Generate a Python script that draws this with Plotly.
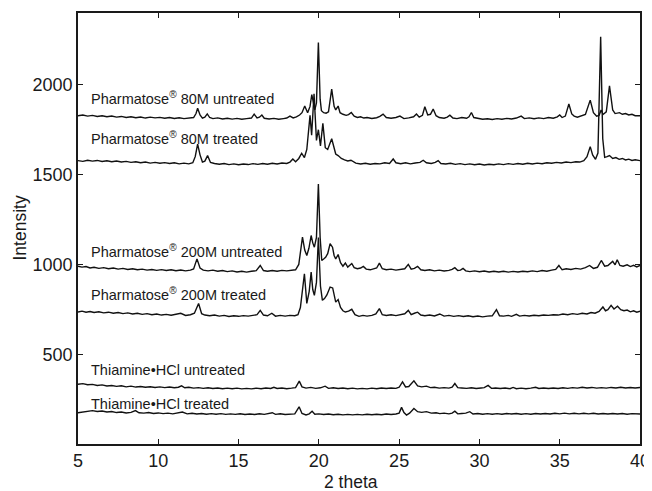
import plotly.graph_objects as go

# ---- data: (2theta, intensity) ----
p80_untreated = [
    (5.0,1828),(5.3,1832),(5.6,1826),(5.9,1830),(6.2,1824),(6.5,1828),(6.8,1822),(7.1,1826),(7.4,1820),(7.7,1824),
    (8.0,1818),(8.3,1822),(8.6,1817),(8.9,1821),(9.2,1815),(9.5,1820),(9.8,1816),(10.1,1819),(10.4,1814),(10.7,1818),
    (11.0,1813),(11.3,1817),(11.6,1812),(11.9,1816),(12.2,1818),(12.35,1840),(12.45,1870),(12.6,1832),(12.75,1815),
    (12.9,1820),(13.05,1838),(13.2,1818),(13.4,1812),(13.7,1816),(14.0,1810),(14.3,1814),(14.6,1809),(14.9,1813),
    (15.2,1808),(15.5,1812),(15.8,1815),(15.97,1837),(16.15,1816),(16.3,1820),(16.45,1832),(16.6,1814),(16.9,1810),
    (17.2,1813),(17.5,1808),(17.8,1812),(18.0,1815),(18.2,1826),(18.4,1816),(18.6,1822),(18.8,1832),(18.95,1845),
    (19.12,1882),(19.3,1845),(19.45,1880),(19.56,1945),(19.68,1880),(19.75,1860),(19.85,1900),(19.97,2235),
    (20.08,1920),(20.16,1856),(20.3,1845),(20.45,1842),(20.6,1850),(20.8,1976),(20.95,1880),(21.05,1860),
    (21.2,1882),(21.32,1845),(21.5,1836),(21.7,1830),(21.85,1834),(22.02,1846),(22.2,1825),(22.4,1818),(22.6,1822),
    (22.8,1815),(23.0,1818),(23.3,1813),(23.6,1817),(23.8,1824),(24.0,1837),(24.2,1818),(24.5,1814),(24.8,1818),
    (25.05,1826),(25.3,1812),(25.6,1816),(25.9,1822),(26.08,1838),(26.25,1820),(26.45,1830),(26.6,1878),(26.78,1832),
    (26.95,1836),(27.12,1865),(27.3,1828),(27.5,1818),(27.8,1814),(28.0,1820),(28.16,1831),(28.35,1815),(28.6,1812),
    (28.9,1818),(29.2,1814),(29.35,1822),(29.5,1846),(29.65,1818),(29.9,1812),(30.2,1808),(30.5,1811),(30.8,1807),
    (31.1,1812),(31.4,1808),(31.7,1813),(32.0,1810),(32.3,1815),(32.6,1826),(32.8,1812),(33.1,1816),(33.4,1811),
    (33.7,1816),(34.0,1812),(34.3,1818),(34.6,1814),(34.85,1822),(35.0,1832),(35.15,1818),(35.35,1826),(35.57,1893),
    (35.75,1838),(35.9,1826),(36.1,1820),(36.4,1828),(36.6,1835),(36.9,1915),(37.1,1845),(37.3,1825),(37.45,1830),
    (37.58,1860),(37.7,1835),(37.9,1850),(38.1,1994),(38.3,1860),(38.45,1840),(38.72,1845),(38.9,1836),(39.1,1840),
    (39.3,1832),(39.5,1836),(39.7,1828),(40.0,1828),
]

p80_treated = [
    (5.0,1578),(5.3,1574),(5.6,1580),(5.9,1575),(6.2,1579),(6.5,1573),(6.8,1577),(7.1,1572),(7.4,1576),(7.7,1570),
    (8.0,1574),(8.3,1568),(8.6,1572),(8.9,1566),(9.2,1570),(9.5,1564),(9.8,1568),(10.1,1563),(10.4,1567),(10.7,1562),
    (11.0,1566),(11.3,1560),(11.6,1564),(11.9,1560),(12.15,1566),(12.3,1600),(12.45,1670),(12.6,1610),(12.75,1570),
    (12.9,1575),(13.07,1606),(13.25,1568),(13.5,1562),(13.8,1558),(14.1,1562),(14.4,1556),(14.7,1560),(15.0,1555),
    (15.3,1559),(15.6,1556),(15.9,1561),(16.2,1557),(16.5,1562),(16.8,1558),(17.1,1563),(17.4,1559),(17.7,1565),
    (18.0,1562),(18.2,1570),(18.38,1587),(18.55,1572),(18.75,1590),(18.93,1619),(19.1,1595),(19.25,1640),
    (19.45,1830),(19.55,1720),(19.7,1950),(19.85,1690),(19.97,1750),(20.1,1660),(20.25,1785),(20.4,1650),
    (20.55,1640),(20.8,1700),(20.98,1630),(21.05,1615),(21.2,1606),(21.4,1590),(21.6,1582),(21.8,1576),(22.0,1580),
    (22.3,1564),(22.6,1559),(22.9,1563),(23.2,1558),(23.5,1562),(23.8,1560),(24.1,1566),(24.4,1562),(24.63,1587),
    (24.8,1566),(25.1,1561),(25.4,1566),(25.7,1560),(26.0,1565),(26.3,1568),(26.5,1580),(26.7,1566),(27.0,1562),
    (27.25,1568),(27.43,1578),(27.6,1562),(27.9,1559),(28.2,1563),(28.5,1557),(28.8,1561),(29.1,1556),(29.4,1560),
    (29.7,1555),(30.0,1559),(30.3,1554),(30.6,1558),(30.9,1555),(31.2,1560),(31.5,1556),(31.8,1561),(32.1,1557),
    (32.4,1562),(32.7,1558),(33.0,1563),(33.3,1559),(33.6,1564),(33.9,1561),(34.2,1566),(34.5,1563),(34.8,1568),
    (35.1,1565),(35.4,1570),(35.7,1567),(36.0,1572),(36.25,1570),(36.5,1578),(36.7,1600),(36.9,1656),(37.05,1610),
    (37.23,1585),(37.38,1620),(37.55,2267),(37.68,1700),(37.8,1596),(37.95,1600),(38.1,1606),(38.3,1590),
    (38.5,1595),(38.7,1585),(38.9,1590),(39.1,1582),(39.3,1586),(39.5,1579),(39.7,1583),(40.0,1578),
]

p200_untreated = [
    (5.0,990),(5.25,985),(5.5,988),(5.75,980),(6.0,984),(6.3,978),(6.6,982),(6.9,976),(7.2,980),(7.5,974),
    (7.8,978),(8.1,972),(8.4,976),(8.7,970),(9.0,974),(9.3,968),(9.6,972),(9.9,967),(10.2,971),(10.5,966),
    (10.8,970),(11.1,965),(11.4,969),(11.7,964),(12.0,968),(12.2,975),(12.41,1031),(12.6,980),(12.8,968),(13.1,964),
    (13.4,968),(13.7,962),(14.0,966),(14.3,960),(14.6,964),(14.9,958),(15.2,962),(15.5,957),(15.8,962),(16.1,965),
    (16.35,994),(16.55,966),(16.8,962),(17.1,966),(17.4,962),(17.7,967),(18.0,964),(18.3,968),(18.55,970),
    (18.75,1000),(18.98,1152),(19.12,1080),(19.25,1050),(19.38,1090),(19.52,1161),(19.62,1120),(19.72,1096),
    (19.85,1150),(19.97,1448),(20.08,1150),(20.18,1022),(20.3,1030),(20.42,1040),(20.55,1060),(20.7,1115),
    (20.85,1096),(20.95,1050),(21.05,1030),(21.2,1055),(21.35,1010),(21.5,990),(21.65,1008),(21.8,985),(22.05,1005),
    (22.2,982),(22.4,976),(22.6,980),(22.77,989),(22.95,974),(23.2,970),(23.45,976),(23.6,980),(23.77,1007),
    (23.95,976),(24.2,970),(24.5,974),(24.8,968),(25.1,972),(25.35,976),(25.57,1000),(25.75,974),(25.95,978),
    (26.15,989),(26.35,970),(26.6,966),(26.9,970),(27.2,964),(27.5,968),(27.8,963),(28.1,967),(28.3,972),
    (28.47,982),(28.65,966),(28.82,968),(28.98,978),(29.15,964),(29.4,960),(29.7,964),(30.0,959),(30.3,963),
    (30.6,958),(30.9,962),(31.2,958),(31.5,962),(31.8,957),(32.1,961),(32.4,958),(32.7,962),(33.0,959),(33.3,964),
    (33.6,960),(33.9,966),(34.2,962),(34.5,968),(34.75,972),(34.95,994),(35.15,970),(35.4,976),(35.7,972),
    (36.0,978),(36.3,974),(36.6,982),(36.86,994),(37.1,978),(37.35,984),(37.59,1022),(37.8,990),(38.0,994),
    (38.3,1017),(38.45,998),(38.58,1026),(38.75,994),(38.95,990),(39.2,998),(39.4,988),(39.6,995),(39.8,986),
    (40.0,994),
]

p200_treated = [
    (5.0,735),(5.25,740),(5.5,734),(5.75,738),(6.0,732),(6.3,736),(6.6,730),(6.9,734),(7.2,728),(7.5,732),
    (7.8,726),(8.1,730),(8.4,724),(8.7,728),(9.0,722),(9.3,726),(9.6,720),(9.9,724),(10.2,718),(10.5,722),
    (10.8,717),(11.1,721),(11.4,728),(11.7,716),(12.0,720),(12.25,728),(12.51,782),(12.7,726),(12.9,718),
    (13.2,714),(13.5,718),(13.8,712),(14.1,716),(14.4,710),(14.7,714),(15.0,711),(15.3,715),(15.6,712),(15.9,716),
    (16.15,720),(16.35,744),(16.55,718),(16.8,714),(17.07,728),(17.3,712),(17.6,716),(17.9,712),(18.2,716),
    (18.5,714),(18.7,720),(18.85,760),(19.1,948),(19.25,783),(19.4,850),(19.52,957),(19.62,860),(19.72,828),
    (19.85,900),(19.97,1150),(20.1,880),(20.22,800),(20.35,810),(20.5,830),(20.7,874),(20.86,869),(20.97,810),
    (21.05,790),(21.2,804),(21.35,760),(21.5,742),(21.65,735),(21.85,740),(22.05,750),(22.25,720),(22.5,711),
    (22.75,716),(23.0,712),(23.3,716),(23.55,724),(23.77,754),(23.95,720),(24.2,716),(24.5,720),(24.8,715),
    (25.1,719),(25.35,725),(25.57,744),(25.75,720),(25.95,728),(26.15,734),(26.35,718),(26.6,714),(26.9,718),
    (27.2,713),(27.53,724),(27.8,712),(28.1,716),(28.4,711),(28.7,715),(29.0,710),(29.3,714),(29.6,709),
    (29.9,713),(30.2,708),(30.5,712),(30.8,714),(31.06,748),(31.25,714),(31.5,712),(31.8,716),(32.0,711),
    (32.3,722),(32.5,712),(32.8,716),(33.1,713),(33.4,717),(33.7,714),(34.0,718),(34.3,716),(34.6,720),(34.9,718),
    (35.2,724),(35.5,720),(35.8,726),(36.1,722),(36.4,728),(36.7,724),(36.95,732),(37.2,728),(37.45,738),
    (37.69,763),(37.85,742),(38.0,748),(38.2,772),(38.38,752),(38.6,767),(38.8,748),(39.0,742),(39.2,746),
    (39.4,736),(39.6,742),(39.8,734),(40.0,739),
]

thi_untreated = [
    (5.0,333),(5.3,336),(5.6,330),(5.9,332),(6.2,326),(6.5,329),(6.8,323),(7.1,326),(7.4,321),(7.7,324),
    (8.0,318),(8.3,322),(8.6,317),(8.9,320),(9.2,316),(9.5,319),(9.8,315),(10.1,318),(10.4,314),(10.7,317),
    (11.0,313),(11.25,316),(11.45,324),(11.65,313),(11.9,316),(12.2,311),(12.5,314),(12.8,310),(13.1,313),
    (13.4,309),(13.7,312),(14.0,308),(14.3,311),(14.6,308),(14.9,311),(15.2,307),(15.5,310),(15.8,307),(16.1,311),
    (16.4,308),(16.7,312),(17.0,309),(17.2,316),(17.4,309),(17.7,312),(18.0,308),(18.3,311),(18.55,314),
    (18.78,350),(18.95,318),(19.2,311),(19.5,315),(19.8,310),(20.1,313),(20.39,322),(20.6,310),(20.9,313),
    (21.2,309),(21.5,312),(21.8,308),(22.1,311),(22.4,307),(22.7,310),(23.0,307),(23.3,311),(23.6,308),(23.9,312),
    (24.2,309),(24.5,312),(24.8,310),(25.0,316),(25.21,346),(25.4,318),(25.6,320),(25.92,352),(26.15,324),
    (26.4,318),(26.7,322),(26.95,314),(27.2,316),(27.5,311),(27.8,314),(28.1,311),(28.3,316),(28.47,337),
    (28.65,314),(28.9,312),(29.2,310),(29.5,313),(29.8,309),(30.1,312),(30.3,314),(30.54,326),(30.75,310),
    (31.0,312),(31.3,309),(31.6,312),(31.9,308),(32.1,315),(32.3,308),(32.6,311),(32.9,308),(33.2,311),(33.5,316),
    (33.7,309),(34.0,312),(34.3,309),(34.6,312),(34.9,309),(35.2,313),(35.5,310),(35.8,314),(36.1,311),(36.4,316),
    (36.7,312),(37.0,315),(37.3,311),(37.6,314),(37.9,311),(38.2,315),(38.5,312),(38.8,316),(39.1,312),(39.4,315),
    (39.7,312),(40.0,315),
]

thi_treated = [
    (5.0,174),(5.3,178),(5.6,182),(5.9,186),(6.2,181),(6.5,184),(6.8,178),(7.1,181),(7.4,175),(7.7,178),
    (8.0,173),(8.3,176),(8.58,186),(8.8,174),(9.1,172),(9.4,175),(9.7,170),(10.0,173),(10.3,169),(10.6,172),
    (10.9,168),(11.2,172),(11.5,178),(11.8,168),(12.1,171),(12.4,167),(12.7,170),(13.0,166),(13.3,169),(13.6,166),
    (13.9,169),(14.2,165),(14.5,168),(14.8,165),(15.1,168),(15.4,164),(15.7,167),(16.0,164),(16.3,168),(16.6,165),
    (16.9,169),(17.1,174),(17.3,165),(17.6,168),(17.9,164),(18.2,167),(18.5,168),(18.77,207),(18.95,170),
    (19.2,162),(19.4,168),(19.58,182),(19.75,166),(20.0,168),(20.3,164),(20.6,167),(20.9,163),(21.2,166),
    (21.5,162),(21.8,165),(22.1,162),(22.4,165),(22.7,162),(23.0,166),(23.3,163),(23.6,166),(23.9,163),(24.2,167),
    (24.5,164),(24.8,167),(25.0,172),(25.15,204),(25.3,175),(25.46,161),(25.65,172),(25.92,198),(26.15,180),
    (26.4,176),(26.7,180),(27.0,172),(27.3,174),(27.53,169),(27.8,172),(28.1,168),(28.3,172),(28.47,183),
    (28.65,168),(28.9,170),(29.15,172),(29.4,180),(29.6,167),(29.9,170),(30.2,166),(30.5,169),(30.8,166),
    (31.1,169),(31.4,166),(31.7,170),(32.0,167),(32.3,170),(32.6,166),(32.9,169),(33.2,166),(33.5,170),(33.8,167),
    (34.1,170),(34.4,167),(34.7,171),(35.0,168),(35.3,172),(35.6,168),(35.9,171),(36.2,168),(36.5,171),(36.8,168),
    (37.1,171),(37.4,167),(37.7,170),(38.0,167),(38.3,170),(38.6,167),(38.9,170),(39.2,166),(39.5,169),(39.8,166),
    (40.0,167),
]

series = [p80_untreated, p80_treated, p200_untreated, p200_treated, thi_untreated, thi_treated]

labels = [
    "Pharmatose<sup>®</sup> 80M untreated",
    "Pharmatose<sup>®</sup> 80M treated",
    "Pharmatose<sup>®</sup> 200M untreated",
    "Pharmatose<sup>®</sup> 200M treated",
    "Thiamine•HCl untreated",
    "Thiamine•HCl treated",
]
label_x = [5.68, 5.68, 5.68, 5.68, 5.68, 5.68]
label_y = [1929, 1702, 1074, 837, 411, 220]

x_ticks = [5, 10, 15, 20, 25, 30, 35, 40]
y_ticks = [500, 1000, 1500, 2000]

FONT = "Liberation Sans, Arial, sans-serif"
INK = "#1a1a1a"

fig = go.Figure()
for s in series:
    fig.add_trace(go.Scatter(
        x=[p[0] for p in s], y=[p[1] for p in s], mode="lines",
        line=dict(color="#111111", width=1.4), showlegend=False, hoverinfo="skip"))

for t, lx, ly in zip(labels, label_x, label_y):
    fig.add_annotation(x=lx, y=ly, text=t, showarrow=False, xanchor="left", yanchor="middle",
                       font=dict(family=FONT, size=14.5, color=INK))

# axis titles
fig.add_annotation(xref="paper", yref="paper", x=0, y=0.5, xshift=-59, text="Intensity",
                   textangle=-90, showarrow=False, xanchor="center", yanchor="middle",
                   font=dict(family=FONT, size=17.5, color=INK))
fig.add_annotation(xref="paper", yref="paper", x=0.5, y=0, xshift=-8, yshift=-38, text="2 theta",
                   showarrow=False, xanchor="center", yanchor="middle",
                   font=dict(family=FONT, size=17.5, color=INK))

axis_common = dict(showline=True, linecolor=INK, linewidth=1.6, mirror="ticks",
                   ticks="inside", ticklen=5, tickwidth=1, tickcolor=INK,
                   showgrid=False, zeroline=False, automargin=False,
                   tickfont=dict(family=FONT, size=18, color=INK))

fig.update_xaxes(range=[5, 40], tickvals=x_ticks, ticktext=[str(v) for v in x_ticks], **axis_common)
fig.update_yaxes(range=[0, 2400], tickvals=y_ticks, ticktext=[str(v) for v in y_ticks], **axis_common)

# the page body adds an 8px offset, so the figure is sized to end at the window edge
fig.update_layout(width=644, height=483, margin=dict(l=69.5, r=11.5, t=5, b=47),
                  plot_bgcolor="white", paper_bgcolor="white")

fig.write_html("out.html")
